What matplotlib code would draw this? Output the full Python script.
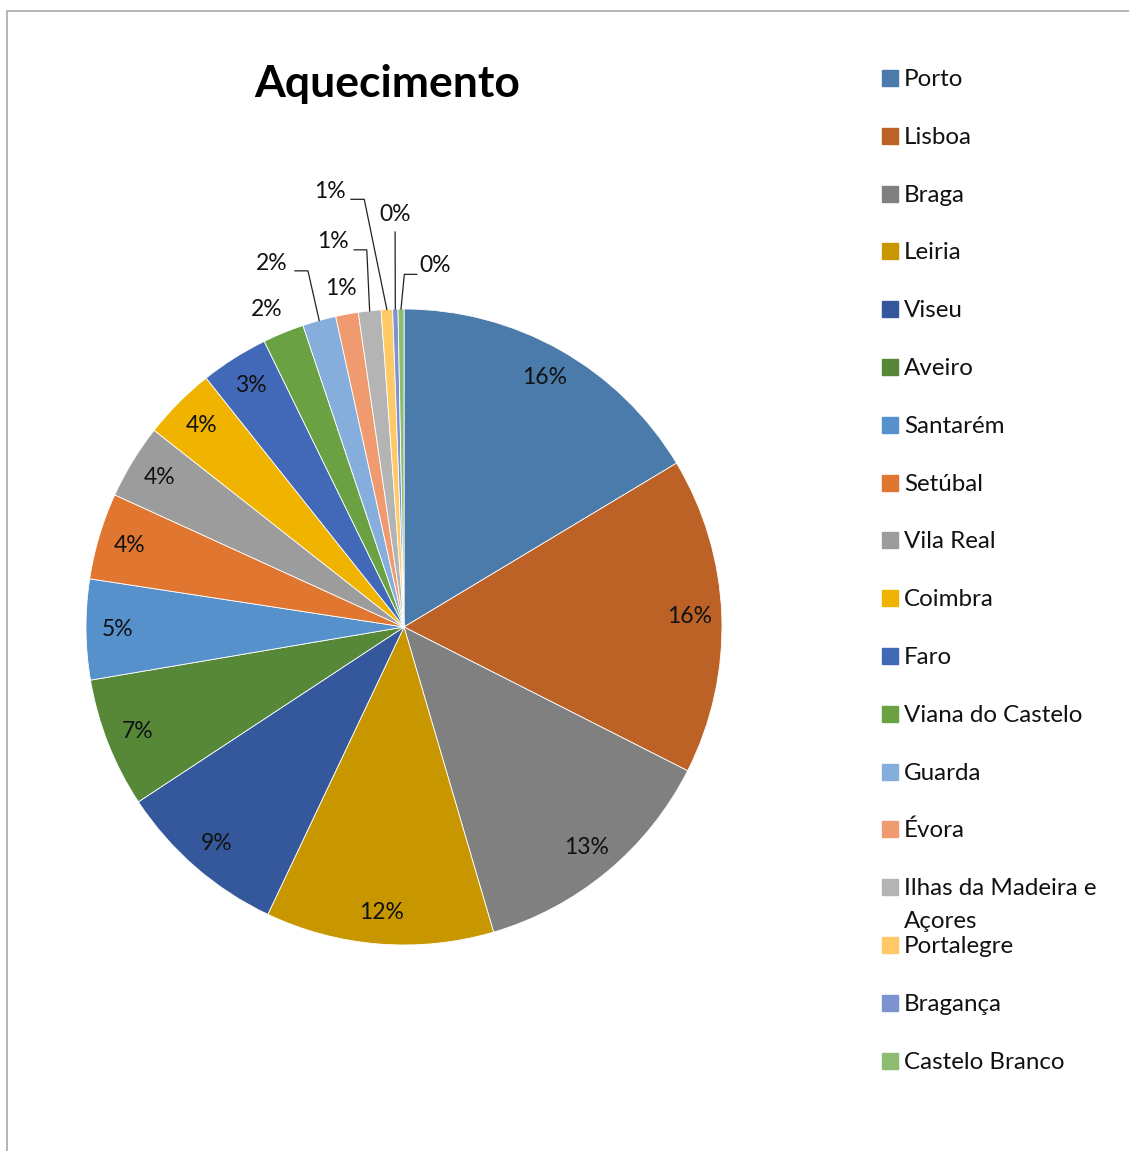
import numpy as np
import matplotlib.pyplot as plt
from matplotlib.lines import Line2D
from matplotlib.patches import Rectangle

plt.rcParams['font.family'] = ['Lato', 'DejaVu Sans']

# data: heating share per district (%)
regioes = ['Porto', 'Lisboa', 'Braga', 'Leiria', 'Viseu', 'Aveiro', 'Santarém',
           'Setúbal', 'Vila Real', 'Coimbra', 'Faro', 'Viana do Castelo', 'Guarda',
           'Évora', 'Ilhas da Madeira e\nAçores', 'Portalegre', 'Bragança',
           'Castelo Branco']
valores = [16.4, 16.1, 13.0, 11.6, 8.7, 6.6, 5.1, 4.4, 3.8, 3.7, 3.45, 2.1, 1.7,
           1.15, 1.15, 0.58, 0.27, 0.3]
cores = ['#4A7BAB', '#BC6226', '#808080', '#C89700', '#34589B', '#568838',
         '#5691CB', '#E07630', '#9C9C9C', '#F0B300', '#4169B8', '#6AA243',
         '#86AEDC', '#F09A70', '#B4B4B4', '#FFC966', '#7C93CF', '#8DBB70']

W, H = 1129, 1151
fig = plt.figure(figsize=(W / 100, H / 100), dpi=100)


def fx(px):
    return px / W


def fy(py):
    return 1 - py / H


# pie axes: centre (404, 627) px, radius 318 px
R = 318
cx, cy = 404, 627
xl, xr, yb, yt = -1.2, 1.2, -1.2, 1.45
ax = fig.add_axes([fx(cx + xl * R), fy(cy - yb * R),
                   (xr - xl) * R / W, (yt - yb) * R / H])

wedges, _ = ax.pie(valores, colors=cores, startangle=90, counterclock=False,
                   radius=1.0, wedgeprops=dict(edgecolor='white', linewidth=0.6))
ax.set_aspect('auto')
ax.set_xlim(xl, xr)
ax.set_ylim(yb, yt)
ax.axis('off')

total = sum(valores)
textos = ['%.0f%%' % (v / total * 100) for v in valores]
meios = [np.deg2rad((w.theta1 + w.theta2) / 2) for w in wedges]

fs = 16.5
# labels inside the first 11 slices
for i in range(11):
    r = 0.9
    ax.text(r * np.cos(meios[i]), r * np.sin(meios[i]), textos[i],
            ha='center', va='center', fontsize=fs, color='#111111')

# outer labels: index -> text position
fora = {11: (-0.431, 0.997), 12: (-0.415, 1.142), 13: (-0.198, 1.066),
        14: (-0.223, 1.211), 15: (-0.233, 1.368), 16: (-0.028, 1.296),
        17: (0.097, 1.138)}
for i, (tx, ty) in fora.items():
    ax.text(tx, ty, textos[i], ha='center', va='center', fontsize=fs,
            color='#111111')

# leader lines: index -> (start, elbow)
guias = {12: ((-0.343, 1.120), (-0.302, 1.120)),
         14: ((-0.157, 1.186), (-0.117, 1.186)),
         15: ((-0.167, 1.345), (-0.125, 1.345)),
         16: ((-0.028, 1.242), (-0.028, 1.242)),
         17: ((0.040, 1.109), (0.001, 1.109))}
for i, (p0, p1) in guias.items():
    rx, ry = np.cos(meios[i]), np.sin(meios[i])
    ax.plot([p0[0], p1[0], rx], [p0[1], p1[1], ry], color='#222222', lw=0.9,
            solid_joinstyle='miter')

# title
fig.text(fx(387), fy(97), 'Aquecimento', ha='center', va='baseline',
         fontsize=32, fontweight='bold', color='black')

# legend drawn by hand
for i, (nome, cor) in enumerate(zip(regioes, cores)):
    yc = 78 + 57.8 * i
    fig.patches.append(Rectangle((fx(882), fy(yc + 8)), 16 / W, 16 / H,
                                 transform=fig.transFigure, color=cor))
    for k, linha in enumerate(nome.split('\n')):
        fig.text(fx(904), fy(yc + 8 + 32.4 * k), linha, ha='left',
                 va='baseline', fontsize=17.4, color='#111111')

# chart area border (cropped at right and bottom)
fig.lines.append(Line2D([fx(7), fx(7), fx(W)], [fy(H), fy(11), fy(11)],
                        transform=fig.transFigure, color='#A8A8A8', lw=1.2))

fig.savefig('out.png', dpi=100)
